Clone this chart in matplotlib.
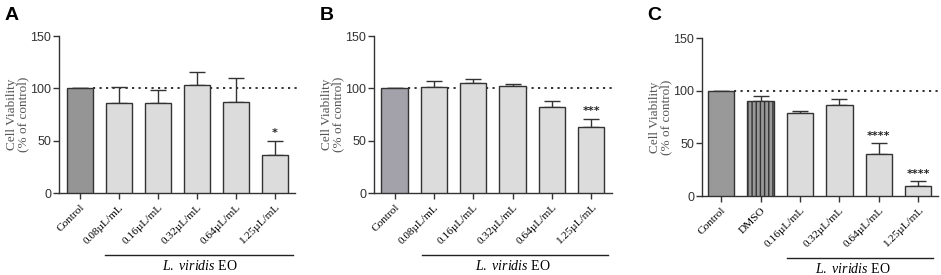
import numpy as np
import matplotlib
matplotlib.use("Agg")
from matplotlib import pyplot as plt
from matplotlib import transforms

plt.rcParams['mathtext.fontset'] = 'custom'
plt.rcParams['mathtext.rm'] = 'Liberation Serif'
plt.rcParams['mathtext.it'] = 'Liberation Serif:italic'
plt.rcParams['hatch.linewidth'] = 1.0

# panel data (mean, upper SD)
labels_A = ['Control', '0.08µL/mL', '0.16µL/mL', '0.32µL/mL', '0.64µL/mL', '1.25µL/mL']
means_A = [100, 86, 86, 103, 87, 36]
errs_A = [0, 15, 12, 13, 23, 14]
stars_A = ['', '', '', '', '', '*']

labels_B = ['Control', '0.08µL/mL', '0.16µL/mL', '0.32µL/mL', '0.64µL/mL', '1.25µL/mL']
means_B = [100, 101, 105, 102, 82, 63]
errs_B = [0, 6, 4, 2, 6, 8]
stars_B = ['', '', '', '', '', '***']

labels_C = ['Control', 'DMSO', '0.16µL/mL', '0.32µL/mL', '0.64µL/mL', '1.25µL/mL']
means_C = [100, 90, 79, 86, 40, 10]
errs_C = [0, 5, 2, 6, 10, 4]
stars_C = ['', '', '', '', '****', '****']

light = '#dcdcdc'
dark_A = '#959595'
dark_B = '#a3a2aa'
dark_C = '#999999'
edge = '#333333'

fig = plt.figure(figsize=(9.41, 2.75), dpi=100)

panels = [
    ('A', labels_A, means_A, errs_A, stars_A, [dark_A] + [light] * 5, [None] * 6,
     [0.0627, 0.298, 0.2508, 0.571], (-0.54, 5.51), (0.65, 5.46), 3.08),
    ('B', labels_B, means_B, errs_B, stars_B, [dark_B] + [light] * 5, [None] * 6,
     [0.3975, 0.298, 0.253, 0.571], (-0.52, 5.53), (0.7, 5.43), 3.0),
    ('C', labels_C, means_C, errs_C, stars_C, [dark_C, dark_C] + [light] * 4, [None, '||||'] + [None] * 4,
     [0.746, 0.287, 0.2508, 0.5745], (-0.49, 5.5), (1.66, 5.37), 3.33),
]

for letter, labels, means, errs, stars, colors, hatches, pos, xlim, line_x, text_x in panels:
    ax = fig.add_axes(pos)
    x = np.arange(len(means))
    w = 0.67
    for i in range(len(means)):
        ax.bar(x[i], means[i], width=w, color=colors[i], edgecolor=edge,
               linewidth=1.0, hatch=hatches[i], zorder=3)
    ax.errorbar(x, means, yerr=[np.zeros(len(errs)), errs], fmt='none',
                ecolor=edge, elinewidth=1.0, capsize=5.5, capthick=1.0, zorder=2)
    ax.hlines(100, x[0] + w / 2, xlim[1] + 0.1, colors='#222222',
              linestyles=(0, (1.2, 2.4)), linewidth=1.3, zorder=1, clip_on=False)
    for i, s in enumerate(stars):
        if s:
            ax.annotate(s, (x[i], means[i] + errs[i]), xytext=(0, 2),
                        textcoords='offset points', ha='center', va='bottom',
                        fontsize=8, fontweight='bold', color='#222222')
    ax.set_xlim(*xlim)
    ax.set_ylim(0, 150)
    ax.set_yticks([0, 50, 100, 150])
    ax.set_xticks(x)
    ax.set_xticklabels(labels, rotation=45, ha='right', rotation_mode='anchor',
                       fontsize=8.2, family='Liberation Serif')
    for t in ax.get_yticklabels():
        t.set_family('Liberation Sans')
        t.set_fontsize(9)
        t.set_color('#333333')
    ax.tick_params(axis='both', direction='out', length=4, width=1.0, color='#333333')
    ax.tick_params(axis='x', pad=3)
    ax.tick_params(axis='y', pad=1.5)
    for side in ['top', 'right']:
        ax.spines[side].set_visible(False)
    for side in ['left', 'bottom']:
        ax.spines[side].set_color('#333333')
        ax.spines[side].set_linewidth(1.0)
    ax.set_ylabel('Cell Viability\n(% of control)', family='Liberation Serif',
                  fontsize=9.5, color='#555555', linespacing=0.95)
    ax.yaxis.set_label_coords(-0.125, 0.5)

    trans = transforms.blended_transform_factory(ax.transData, ax.transAxes)
    ax.plot(line_x, [-0.395, -0.395], color='#222222', linewidth=1.0,
            transform=trans, clip_on=False)
    ax.text(text_x, -0.42, r'$\mathit{L.\ viridis}$ EO', transform=trans,
            ha='center', va='top', fontsize=10, family='Liberation Serif')

    fig.text(pos[0] - 0.0627 + 0.005, 0.945, letter, fontsize=14, fontweight='bold',
             family='Liberation Sans', ha='left', va='center')

fig.savefig('out.png', dpi=100)
